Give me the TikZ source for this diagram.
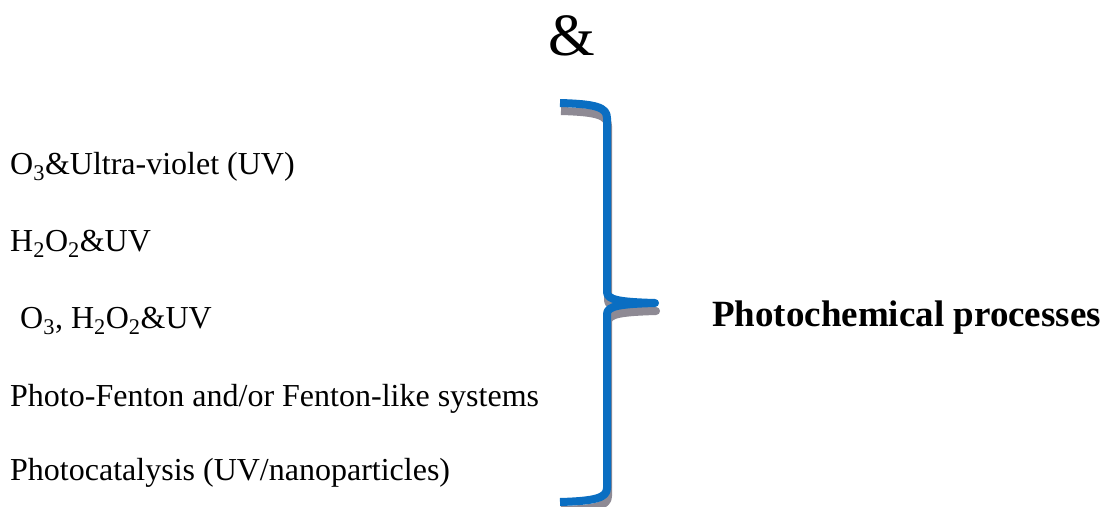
\documentclass[tikz,border=0pt]{standalone}
\usepackage{fontspec}
\setmainfont{Liberation Serif}
\definecolor{braceblue}{HTML}{0A6EC2}
\definecolor{bracegray}{HTML}{8E8A94}
\begin{document}
\begin{tikzpicture}[x=1pt,y=-1pt,
  item/.style={anchor=base west,inner sep=0pt,font=\fontsize{32}{34}\selectfont},
  bracepath/.style={line width=8pt,line join=round}]
\useasboundingbox (0,0) rectangle (1107,506);
\node[anchor=base,inner sep=0pt,font=\fontsize{60}{64}\selectfont] (amp) at (572,55) {\&};
\node[item] (l1) at (10,174) {O\textsubscript{3}\&Ultra-violet (UV)};
\node[item] (l2) at (10,251) {H\textsubscript{2}O\textsubscript{2}\&UV};
\node[item] (l3) at (20,328) {O\textsubscript{3}, H\textsubscript{2}O\textsubscript{2}\&UV};
\node[item] (l4) at (10,406) {Photo-Fenton and/or Fenton-like systems};
\node[item] (l5) at (10,480) {Photocatalysis (UV/nanoparticles)};
\node[anchor=base west,inner sep=0pt,font=\fontsize{37}{40}\selectfont\bfseries] (pc) at (712,326) {Photochemical processes};
\begin{scope}[shift={(1,8)}]
\draw[bracepath,bracegray] (560,103) .. controls (595,104) and (607,107) .. (607,118) -- (607,292) .. controls (607,300) and (620,302) .. (655,303) .. controls (620,304) and (607,306) .. (607,314) -- (607,488) .. controls (607,498) and (595,501) .. (560,502);
\end{scope}
\draw[bracepath,braceblue] (560,103) .. controls (595,104) and (607,107) .. (607,118) -- (607,292) .. controls (607,300) and (620,302) .. (655,303) .. controls (620,304) and (607,306) .. (607,314) -- (607,488) .. controls (607,498) and (595,501) .. (560,502);
\end{tikzpicture}
\end{document}
